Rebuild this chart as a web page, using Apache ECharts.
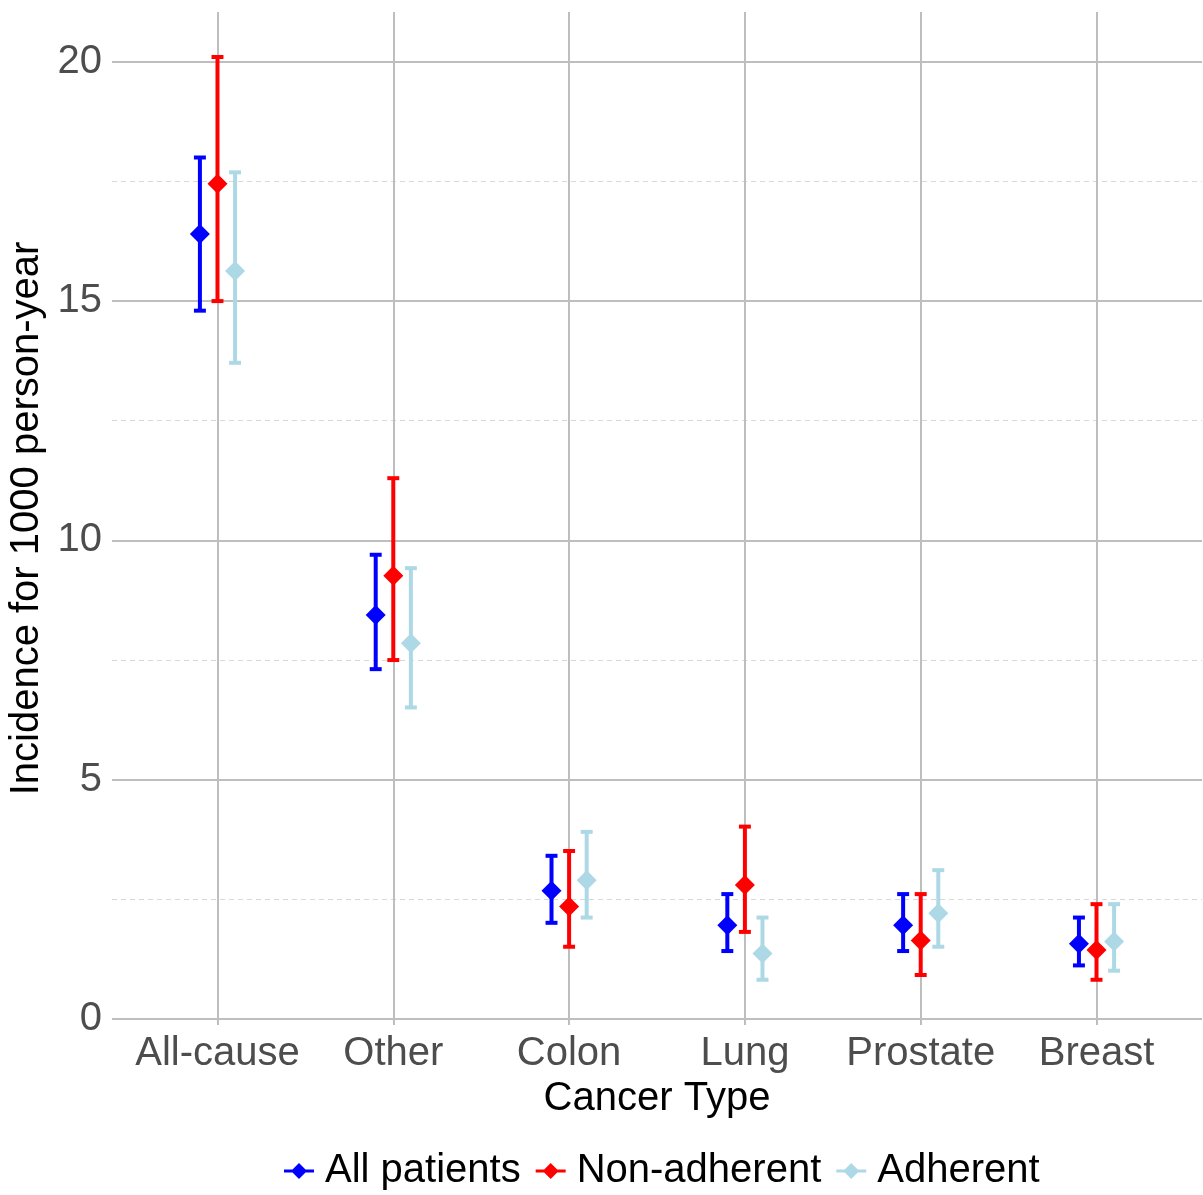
<!DOCTYPE html>
<html>
<head>
<meta charset="utf-8">
<title>Incidence by cancer type</title>
<script src="https://cdn.jsdelivr.net/npm/echarts@6/dist/echarts.min.js"></script>
<style>
  html, body { margin: 0; padding: 0; background: #fff; }
  #chart { width: 1203px; height: 1195px; }
</style>
</head>
<body>
<div id="chart"></div>
<script>
// categories on the x axis
const categories = ['All-cause', 'Other', 'Colon', 'Lung', 'Prostate', 'Breast']

// All patients
const allMid = [16.4, 8.44, 2.68, 1.96, 1.96, 1.57]
const allLow = [14.8, 7.31, 2.01, 1.42, 1.42, 1.12]
const allHigh = [18.0, 9.70, 3.41, 2.61, 2.61, 2.12]
// Non-adherent
const nonMid = [17.45, 9.26, 2.35, 2.80, 1.64, 1.44]
const nonLow = [15.0, 7.50, 1.51, 1.82, 0.92, 0.82]
const nonHigh = [20.1, 11.3, 3.51, 4.02, 2.61, 2.40]
// Adherent
const adhMid = [15.63, 7.85, 2.90, 1.37, 2.21, 1.62]
const adhLow = [13.71, 6.51, 2.12, 0.82, 1.51, 1.01]
const adhHigh = [17.69, 9.42, 3.91, 2.12, 3.11, 2.40]

const yMajor = [0, 5, 10, 15, 20]
const yMinor = [2.5, 7.5, 12.5, 17.5]

const groups = [
  { name: 'All patients', color: '#0000FF', offset: -0.1, mid: allMid, low: allLow, high: allHigh },
  { name: 'Non-adherent', color: '#FF0000', offset: 0, mid: nonMid, low: nonLow, high: nonHigh },
  { name: 'Adherent', color: '#ADD8E6', offset: 0.1, mid: adhMid, low: adhLow, high: adhHigh }
]

const font = "'Liberation Sans', Arial, sans-serif"
const catIdx = categories.map((c, i) => i + 1)
const legendIcon = 'path://M0,6.5H30V9.5H0Z M15,0L23,8L15,16L7,8Z'

function errorBar(color) {
  return function(params, api) {
    const x = api.value(0)
    const lo = api.coord([x, api.value(1)])
    const hi = api.coord([x, api.value(2)])
    const half = api.size([0.068, 0])[0] / 2
    const style = { stroke: color, lineWidth: 4 }
    return {
      type: 'group',
      children: [
        { type: 'line', shape: { x1: lo[0], y1: lo[1], x2: hi[0], y2: hi[1] }, style: style },
        { type: 'line', shape: { x1: lo[0] - half, y1: lo[1], x2: lo[0] + half, y2: lo[1] }, style: style },
        { type: 'line', shape: { x1: hi[0] - half, y1: hi[1], x2: hi[0] + half, y2: hi[1] }, style: style }
      ]
    }
  }
}

const series = []
groups.forEach(g => {
  series.push({
    name: g.name,
    type: 'custom',
    itemStyle: { color: g.color },
    renderItem: errorBar(g.color),
    data: catIdx.map((x, i) => [x + g.offset, g.low[i], g.high[i]])
  })
  series.push({
    name: g.name,
    type: 'scatter',
    symbol: 'diamond',
    symbolSize: [20, 20],
    itemStyle: { color: g.color, opacity: 1 },
    z: 3,
    data: catIdx.map((x, i) => [x + g.offset, g.mid[i]])
  })
})

const myChart = echarts.init(document.getElementById('chart'))
const option = {
  animation: false,
  backgroundColor: '#fff',
  textStyle: { fontFamily: font },
  grid: { left: 112, right: 1, top: 12, bottom: 170, outerBoundsMode: 'none', containLabel: false },
  legend: {
    left: 279,
    top: 1146,
    itemWidth: 30,
    itemHeight: 16,
    itemGap: 15,
    textStyle: { fontSize: 40, color: '#000', fontFamily: font, padding: [0, 0, 0, 6] },
    data: groups.map(g => ({ name: g.name, icon: legendIcon, itemStyle: { color: g.color } }))
  },
  xAxis: {
    type: 'value',
    min: 0.4,
    max: 6.6,
    name: 'Cancer Type',
    nameLocation: 'middle',
    nameGap: 52,
    nameTextStyle: { fontSize: 40, color: '#000', fontFamily: font },
    axisLine: { show: false },
    axisTick: { show: false, customValues: catIdx },
    axisLabel: {
      customValues: catIdx,
      margin: 9,
      fontSize: 40,
      color: '#4D4D4D',
      formatter: v => categories[Math.round(v) - 1]
    },
    splitLine: { show: true, lineStyle: { color: '#BEBEBE', width: 2 } }
  },
  yAxis: [
    {
      type: 'value',
      min: -0.125,
      max: 21.04,
      name: 'Incidence for 1000 person-year',
      nameLocation: 'middle',
      nameGap: 62,
      nameTextStyle: { fontSize: 40, color: '#000', fontFamily: font },
      axisLine: { show: false },
      axisTick: { show: false, customValues: yMajor },
      axisLabel: { customValues: yMajor, margin: 10, fontSize: 40, color: '#4D4D4D' },
      splitLine: { show: true, lineStyle: { color: '#BEBEBE', width: 2 } }
    },
    {
      type: 'value',
      min: -0.125,
      max: 21.04,
      position: 'left',
      axisLine: { show: false },
      axisTick: { show: false, customValues: yMinor },
      axisLabel: { show: false, customValues: yMinor },
      splitLine: { show: true, lineStyle: { color: '#D9D9D9', width: 1, type: [5, 4] } }
    }
  ],
  series: series
}
myChart.setOption(option)
</script>
</body>
</html>
